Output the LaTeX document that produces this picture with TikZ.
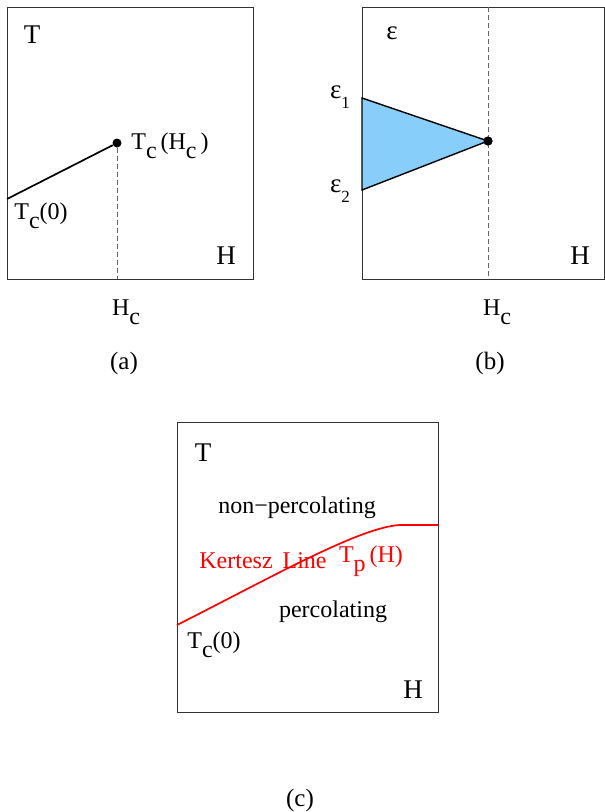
\documentclass[tikz,border=0pt]{standalone}
\usepackage{fontspec}
\setmainfont{Liberation Serif}
\definecolor{skyfill}{RGB}{135,206,250}
\definecolor{framegray}{RGB}{50,50,50}
\newcommand{\lsub}[1]{\raisebox{-0.38em}{#1}}
\begin{document}
\begin{tikzpicture}[x=1pt,y=-1pt,
  frame/.style={draw=framegray,line width=1pt},
  ax/.style={font=\fontsize{27}{27}\selectfont,inner sep=0pt},
  lab/.style={font=\fontsize{24}{24}\selectfont,inner sep=0pt},
  captext/.style={font=\fontsize{25}{25}\selectfont,inner sep=0pt},
  curve/.style={line width=1.7pt},
  guide/.style={draw=gray!80!black,dashed,dash pattern=on 5pt off 3pt,line width=1pt},
  pt/.style={circle,fill=black,inner sep=0pt,minimum size=9pt}]
\useasboundingbox (0,0) rectangle (605,812);
% ---- panel (a)
\draw[frame] (7,7) rectangle (253,279);
\coordinate (a0) at (7,199);
\node[pt] (aC) at (117,143) {};
\coordinate (aB) at (117,279);
\draw[guide] (aC) -- (aB);
\draw[curve] (a0) -- (aC);
\node[ax] (aT) at (32,35) {T};
\node[ax] (aH) at (226,256) {H};
\node[lab] (aTcH) at (170,146) {T\lsub{c}\,(H\lsub{c}\,)};
\node[lab] (aTc0) at (41,216) {T\lsub{c}(0)};
\node[lab] (aHc) at (126,312) {H\lsub{c}};
\node[captext] (acap) at (124,363) {(a)};
% ---- panel (b)
\draw[frame] (362,7) rectangle (604,279);
\coordinate (e1) at (362,98);
\coordinate (e2) at (362,190);
\node[pt] (bC) at (488,141) {};
\coordinate (bT) at (488,7);
\coordinate (bB) at (488,279);
\draw[guide] (bT) -- (bB);
\filldraw[fill=skyfill,draw=black,line width=1.4pt] (e1) -- (bC.center) -- (e2) -- cycle;
\node[pt] at (bC) {};
\node[ax] (beps) at (392,33) {ε};
\node[lab] (be1) at (340,97) {\fontsize{27}{27}\selectfont ε\lsub{\fontsize{17}{17}\selectfont 1}};
\node[lab] (be2) at (340,191) {\fontsize{27}{27}\selectfont ε\lsub{\fontsize{17}{17}\selectfont 2}};
\node[ax] (bH) at (580,256) {H};
\node[lab] (bHc) at (497,312) {H\lsub{c}};
\node[captext] (bcap) at (490,363) {(b)};
% ---- panel (c)
\draw[frame] (177,422) rectangle (438,712);
\coordinate (k0) at (177,625);
\coordinate (k1) at (400,525);
\coordinate (k2) at (438,525);
\draw[curve,red] (k0) .. controls (270,578) and (360,527) .. (k1) -- (k2);
\node[ax] (cT) at (203,453) {T};
\node[lab] (cnp) at (297,508) {non−percolating};
\node[lab,red] (ckl) at (263,561) {Kertesz\, Line};
\node[lab,red] (ctp) at (371,561) {T\lsub{p}\,(H)};
\node[lab] (cp) at (333,612) {percolating};
\node[lab] (cTc0) at (214,645) {T\lsub{c}(0)};
\node[ax] (cH) at (413,690) {H};
\node[captext] (ccap) at (300,800) {(c)};
\end{tikzpicture}
\end{document}
